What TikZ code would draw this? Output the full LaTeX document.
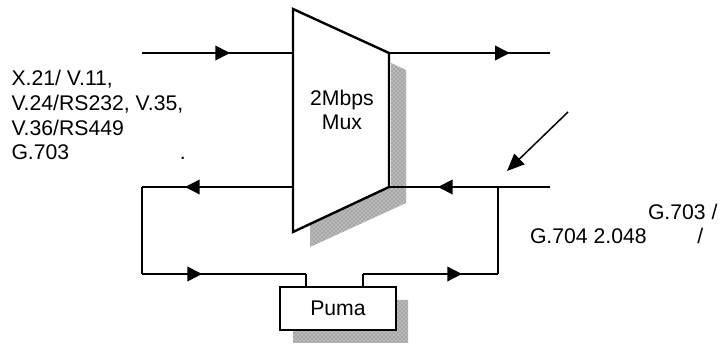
\documentclass[tikz,border=0pt]{standalone}
\usepackage{fontspec}
\setmainfont{Liberation Sans}
\usetikzlibrary{arrows.meta,patterns,decorations.markings}

\begin{document}
\begin{tikzpicture}[x=0.75pt,y=-0.75pt]
\tikzstyle{wire}=[line width=1.1pt,draw=black]
\tikzstyle{flow}=[wire,postaction={decorate},decoration={markings,
	mark=at position #1 with {\arrow{Triangle[length=11pt,width=11pt]}}}]
\tikzstyle{shade}=[fill=black!35,postaction={pattern=crosshatch dots,pattern color=white}]
\tikzstyle{label}=[inner sep=0pt,outer sep=0pt,font=\fontsize{15.9}{18.5}\selectfont,align=left]
\tikzstyle{box}=[draw=black,line width=1.2pt,inner sep=0pt,minimum width=87pt,minimum height=32pt,fill=white]
\useasboundingbox (0,0) rectangle (722,345);

% shadows first
\path[shade] (391,63) -- (406,70) -- (406,203) -- (310,247) -- (310,224) -- (391,186) -- cycle;
\path[shade] (397,300) -- (408,300) -- (408,343) -- (293,343) -- (293,331) -- (397,331) -- cycle;

\coordinate (muxa) at (293,9);
\coordinate (muxb) at (389,53);
\coordinate (muxc) at (389,187);
\coordinate (muxd) at (293,232);
\coordinate (muxin) at (293,53);
\coordinate (muxback) at (293,187);
\coordinate (inp) at (142,53);
\coordinate (outp) at (550,53);
\coordinate (retp) at (550,187);
\coordinate (tee) at (498,187);
\coordinate (teelow) at (498,274);
\coordinate (loopa) at (142,187);
\coordinate (loopb) at (142,274);
\coordinate (stubl) at (306,274);
\coordinate (stubr) at (363,274);
\coordinate (ptr) at (568,112);
\coordinate (ptrend) at (507,171);

\draw[line width=1.8pt,line join=miter,fill=white] (muxa) -- (muxb) -- (muxc) -- (muxd) -- cycle;
\node[box] (puma) at (338,308.5) {\fontsize{15.9}{18.5}\selectfont\raisebox{-1pt}{Puma}};
\node[label,align=center,anchor=base] (mux) at (342,130) {2Mbps\\Mux};

\node[label,anchor=base west] (ifaces) at (11.5,160) {X.21/ V.11,\\V.24/RS232, V.35,\\V.36/RS449\\G.703\hspace{83pt}.};
\node[label,anchor=base west] (rate) at (648,220) {G.703 /};
\node[label,anchor=base west] (rateb) at (530,244) {G.704 2.048\hspace{38pt}/};

\draw[flow=.583] (inp) -- (muxin);
\draw[flow=.75] (muxb) -- (outp);
\draw[flow=.696] (retp) -- (muxc);
\draw[flow=.715] (muxback) -- (loopa);
\draw[wire] (loopa) -- (loopb);
\draw[flow=.366] (loopb) -- (stubl);
\draw[wire] (stubl) -- (stubl |- puma.north);
\draw[wire] (stubr |- puma.north) -- (stubr);
\draw[flow=.733] (stubr) -- (teelow);
\draw[wire] (tee) -- (teelow);
\draw[line width=1.1pt,-{Triangle[length=13pt,width=11pt]}] (ptr) -- (ptrend);
\end{tikzpicture}
\end{document}
